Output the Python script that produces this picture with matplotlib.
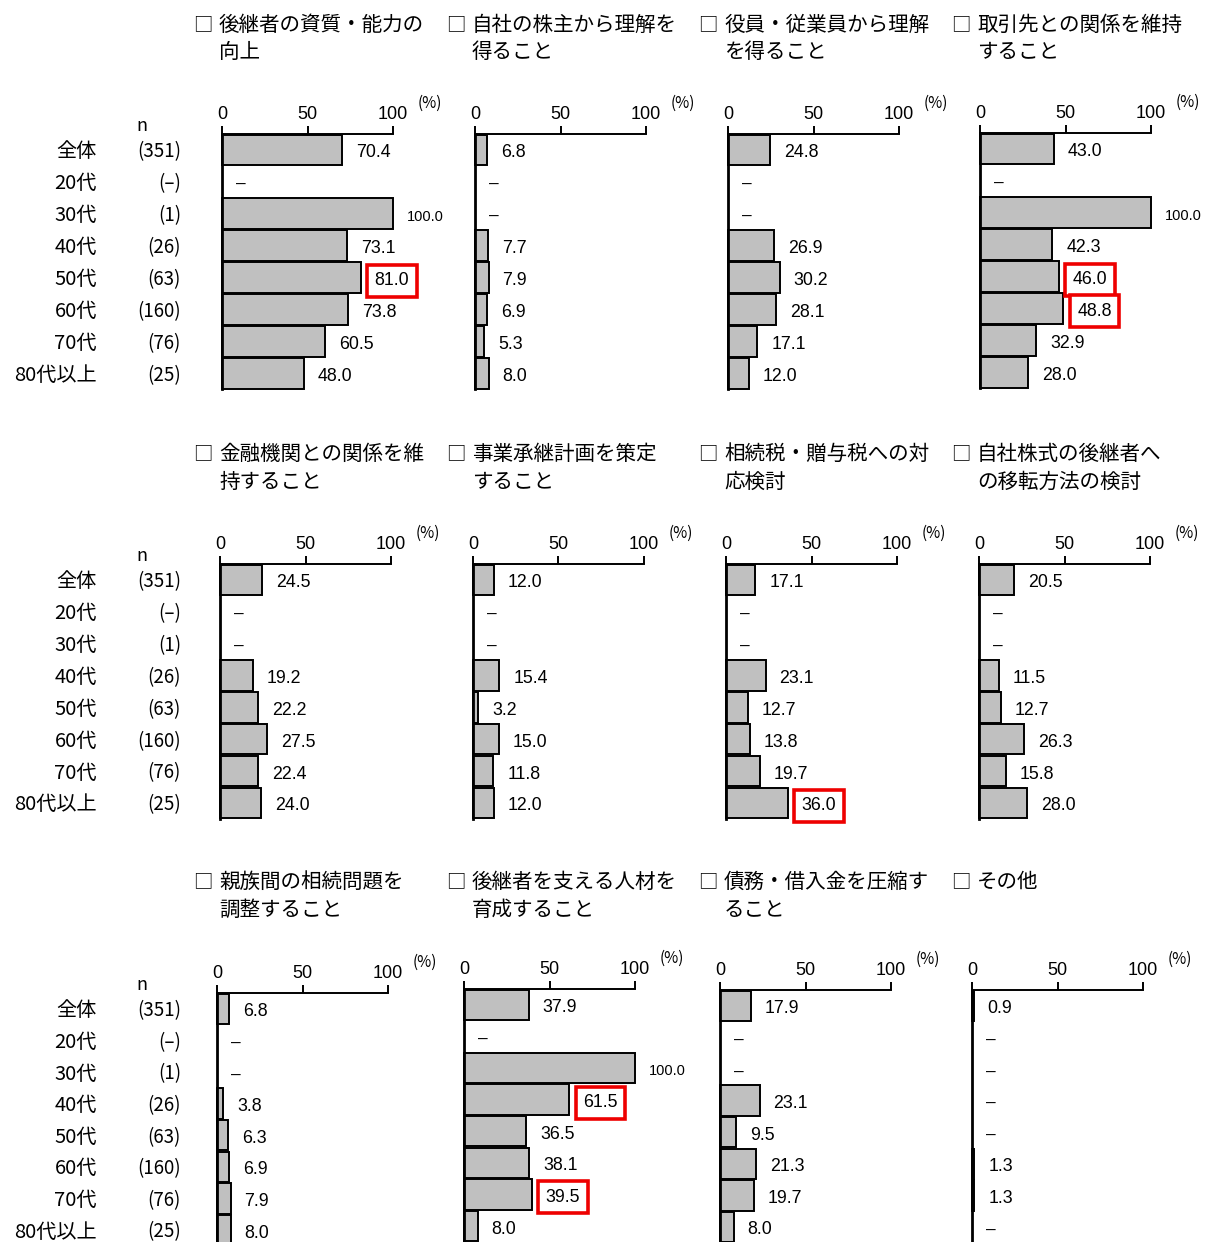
import matplotlib
matplotlib.use('Agg')
import matplotlib.pyplot as plt

W, H = 1208, 1242
CJK = ['Noto Sans CJK JP', 'DejaVu Sans']
NUM = ['Liberation Sans', 'DejaVu Sans']

# age groups and sample sizes
ages = ['全体', '20代', '30代', '40代', '50代', '60代', '70代', '80代以上']
n_labels = ['(351)', '(–)', '(1)', '(26)', '(63)', '(160)', '(76)', '(25)']

# panel titles (two lines each)
titles = [
    ('後継者の資質・能力の', '向上'),
    ('自社の株主から理解を', '得ること'),
    ('役員・従業員から理解', 'を得ること'),
    ('取引先との関係を維持', 'すること'),
    ('金融機関との関係を維', '持すること'),
    ('事業承継計画を策定', 'すること'),
    ('相続税・贈与税への対', '応検討'),
    ('自社株式の後継者へ', 'の移転方法の検討'),
    ('親族間の相続問題を', '調整すること'),
    ('後継者を支える人材を', '育成すること'),
    ('債務・借入金を圧縮す', 'ること'),
    ('その他', ''),
]

# percentages per age group, None = no answer ("–")
shishitsu = [70.4, None, 100.0, 73.1, 81.0, 73.8, 60.5, 48.0]
kabunushi = [6.8, None, None, 7.7, 7.9, 6.9, 5.3, 8.0]
yakuin = [24.8, None, None, 26.9, 30.2, 28.1, 17.1, 12.0]
torihiki = [43.0, None, 100.0, 42.3, 46.0, 48.8, 32.9, 28.0]
kinyu = [24.5, None, None, 19.2, 22.2, 27.5, 22.4, 24.0]
keikaku = [12.0, None, None, 15.4, 3.2, 15.0, 11.8, 12.0]
sozokuzei = [17.1, None, None, 23.1, 12.7, 13.8, 19.7, 36.0]
kabushiki = [20.5, None, None, 11.5, 12.7, 26.3, 15.8, 28.0]
shinzoku = [6.8, None, None, 3.8, 6.3, 6.9, 7.9, 8.0]
jinzai = [37.9, None, 100.0, 61.5, 36.5, 38.1, 39.5, 8.0]
saimu = [17.9, None, None, 23.1, 9.5, 21.3, 19.7, 8.0]
sonota = [0.9, None, None, None, None, 1.3, 1.3, None]

series = [shishitsu, kabunushi, yakuin, torihiki, kinyu, keikaku,
          sozokuzei, kabushiki, shinzoku, jinzai, saimu, sonota]

# (panel, row) of values marked with a red frame
highlight = [(0, 4), (3, 4), (3, 5), (6, 7), (9, 3), (9, 6)]

# layout in pixels
row_tops = [[134, 134, 134, 133], [564, 564, 564, 564], [993, 989, 990, 990]]
pitches = [31.9, 31.85, 31.6]
x0s = [[222, 475, 728, 980], [220, 473, 726, 979], [217, 464, 720, 972]]
SPAN = 171
title_y = [(25, 52), (454, 482), (882, 910)]
box_x = [193, 446, 698, 951]

fig = plt.figure(figsize=(W / 100, H / 100), dpi=100)
fig.patch.set_facecolor('white')


def ptext(x, y, s, **kw):
    fig.text(x / W, 1 - y / H, s, **kw)


for r in range(3):
    pitch = pitches[r]
    # row headers
    top0 = row_tops[r][0]
    ptext(142, top0 - 8, 'n', ha='center', va='center', fontsize=13, family=CJK)
    for i in range(8):
        y = top0 + (i + 0.5) * pitch + 2
        ptext(97, y, ages[i], ha='right', va='center', fontsize=14.5, family=CJK)
        ptext(181, y, n_labels[i], ha='right', va='center', fontsize=13.5, family=CJK)

    for c in range(4):
        k = r * 4 + c
        vals = series[k]
        top = row_tops[r][c]
        x0 = x0s[r][c]

        # title
        ty1, ty2 = title_y[r]
        ptext(box_x[c], ty1, '□', ha='left', va='center', fontsize=14, family=CJK)
        ptext(box_x[c] + 26, ty1, titles[k][0], ha='left', va='center', fontsize=14.8, family=CJK)
        ptext(box_x[c] + 26, ty2, titles[k][1], ha='left', va='center', fontsize=14.8, family=CJK)

        ax = fig.add_axes([x0 / W, 1 - (top + 8 * pitch) / H, SPAN / W, 8 * pitch / H])
        ax.set_xlim(0, 100)
        ax.set_ylim(7.5, -0.5)
        ax.patch.set_alpha(0)

        ys = [i for i, v in enumerate(vals) if v is not None]
        ws = [vals[i] for i in ys]
        bars = ax.barh(ys, ws, height=0.96, color='#c0c0c0', edgecolor='black', linewidth=1.4)
        for b in bars:
            b.set_clip_on(False)

        for i, v in enumerate(vals):
            if v is None:
                ax.annotate('–', xy=(0, i), xytext=(14, -3), textcoords='offset pixels',
                            ha='left', va='center', fontsize=12.5, family=NUM,
                            annotation_clip=False)
                continue
            size = 10.5 if v >= 100 else 12.8
            kw = {}
            if (k, i) in highlight:
                kw['bbox'] = dict(boxstyle='square,pad=0.42', fc='white', ec='#ee0000', lw=2.6)
            ax.annotate(f'{v:.1f}', xy=(v, i), xytext=(14, -3), textcoords='offset pixels',
                        ha='left', va='center', fontsize=size, family=NUM,
                        annotation_clip=False, **kw)

        for s in ('right', 'bottom'):
            ax.spines[s].set_visible(False)
        ax.spines['top'].set_linewidth(1.4)
        ax.spines['left'].set_linewidth(2.0)
        ax.xaxis.tick_top()
        ax.set_xticks([0, 50, 100])
        ax.tick_params(axis='x', direction='out', length=6, width=1.4, pad=2, labelsize=13)
        for lab in ax.get_xticklabels():
            lab.set_family(NUM)
        ax.set_yticks([])

        ptext(x0 + SPAN + 37, top - 31, '(%)', ha='center', va='center', fontsize=11, family=CJK)

fig.savefig('out.png', dpi=100, facecolor='white')
